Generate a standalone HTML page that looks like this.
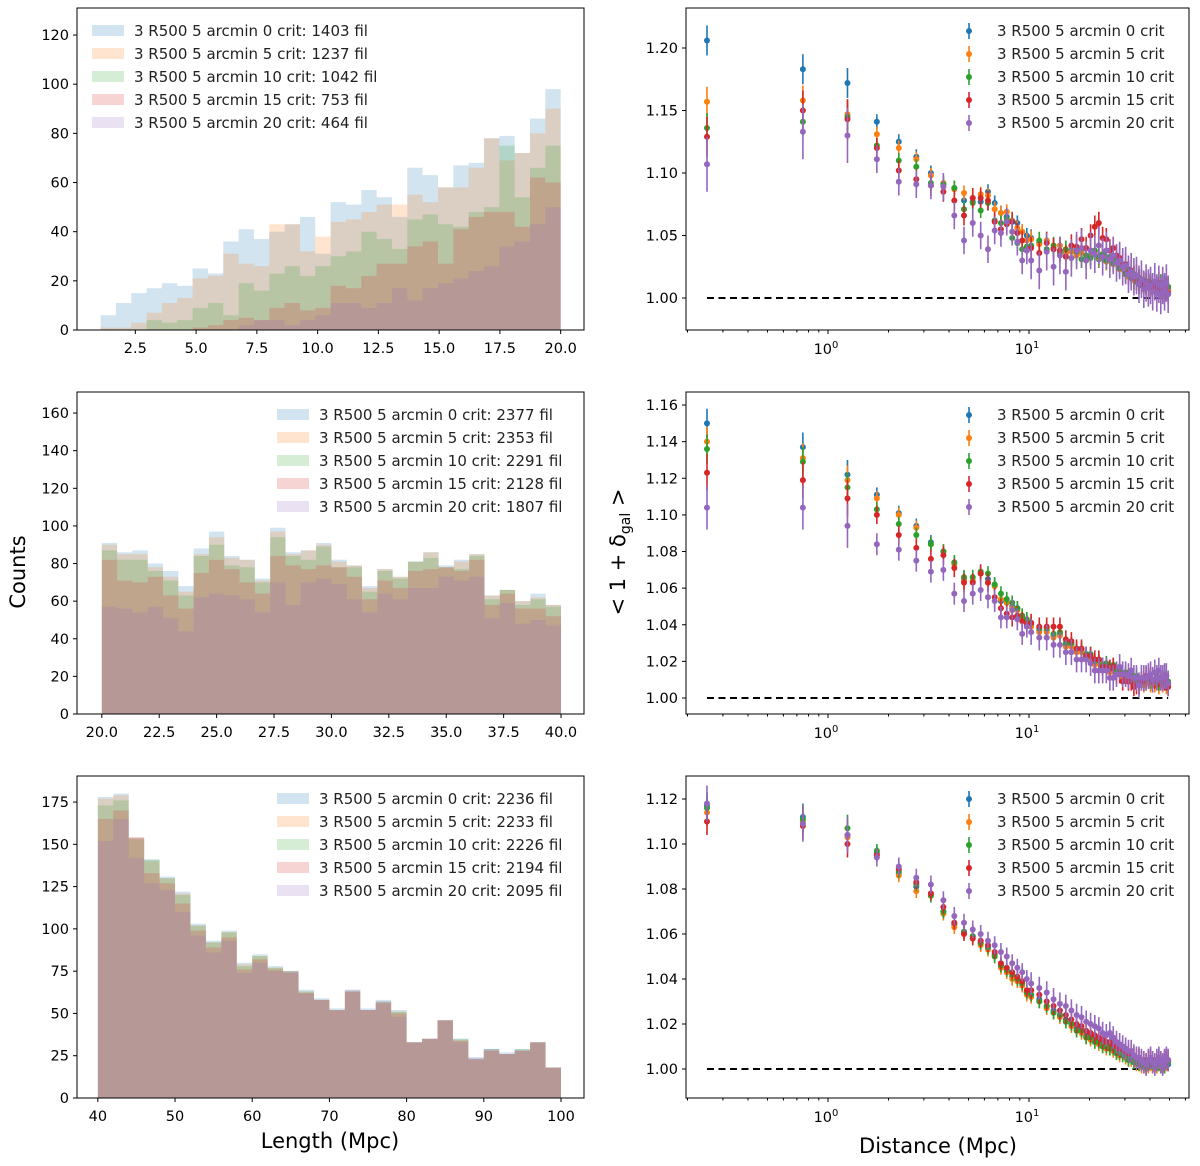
<!DOCTYPE html>
<html><head><meta charset="utf-8">
<style>
html,body{margin:0;padding:0;background:#fff;}
svg{display:block;font-family:"DejaVu Sans","Liberation Sans",sans-serif;}
</style></head>
<body>
<svg id="fig" width="1200" height="1166" viewBox="0 0 1200 1166" xmlns="http://www.w3.org/2000/svg"></svg>
<script>
// ---------- Histogram data (counts per bin, 30 bins) ----------
const histTopBlue   = [6,11,15,17,19,18,25,23,36,41,37,40,43,46,31,52,51,57,54,46,66,63,58,67,68,78,79,72,86,98];
const histTopOrange = [1,1,3,7,11,13,21,22,31,27,26,43,43,32,38,44,45,48,51,51,55,52,58,58,66,78,69,72,80,90];
const histTopGreen  = [0,0,0,4,3,4,9,11,6,19,16,23,26,22,26,30,32,40,37,33,45,47,43,42,48,50,75,54,66,75];
const histTopRed    = [0,0,0,0,0,0,1,2,4,5,4,9,11,8,9,18,17,22,27,27,34,36,27,41,46,48,48,42,62,60];
const histTopPurple = [0,0,0,0,0,0,0,0,0,2,4,4,2,4,6,11,11,9,11,17,12,17,19,21,24,26,34,36,43,50];

const histMidBlue   = [91,86,87,80,76,68,88,97,84,82,72,99,86,87,91,82,79,68,77,73,81,86,79,82,85,63,66,60,64,58];
const histMidOrange = [90,85,85,78,73,65,85,94,83,82,71,97,85,87,90,81,79,67,77,73,81,86,78,81,85,63,66,60,62,58];
const histMidGreen  = [87,82,82,76,71,63,84,90,79,78,70,94,84,82,89,78,78,65,76,72,81,83,78,77,84,61,66,58,61,57];
const histMidRed    = [82,71,70,73,63,56,75,82,77,70,64,84,79,77,79,78,73,61,71,67,76,77,78,76,82,58,64,56,56,52];
const histMidPurple = [57,56,54,57,51,44,62,64,63,61,54,70,58,70,72,69,61,54,64,61,67,67,73,71,73,51,59,48,50,47];

const histBotBlue   = [178,180,154,141,131,122,103,93,99,80,85,78,75,64,59,53,64,53,58,52,33,35,46,35,24,29,27,29,33,18];
const histBotOrange = [177,179,154,140,130,121,102,92,98,79,84,77,75,63,58,52,63,52,57,51,33,35,46,34,23,28,26,28,33,18];
const histBotGreen  = [173,176,153,141,130,120,102,92,98,78,84,77,75,63,58,52,63,52,57,51,33,35,46,35,23,29,26,29,33,18];
const histBotRed    = [165,170,154,133,127,115,99,89,95,76,82,76,74,62,58,52,63,52,56,50,33,35,46,34,23,28,26,28,33,18];
const histBotPurple = [152,165,142,127,123,110,96,86,93,74,80,75,75,62,58,52,64,52,57,48,33,35,46,33,24,29,26,28,33,18];

const critLabels = ["0","5","10","15","20"];
const filTop = [1403,1237,1042,753,464];
const filMid = [2377,2353,2291,2128,1807];
const filBot = [2236,2233,2226,2194,2095];

const histTopXTicks = [2.5,5.0,7.5,10.0,12.5,15.0,17.5,20.0];
const histTopYTicks = [0,20,40,60,80,100,120];
const histMidXTicks = [20.0,22.5,25.0,27.5,30.0,32.5,35.0,37.5,40.0];
const histMidYTicks = [0,20,40,60,80,100,120,140,160];
const histBotXTicks = [40,50,60,70,80,90,100];
const histBotYTicks = [0,25,50,75,100,125,150,175];

// ---------- Overdensity data: distance bins (Mpc) and values in thousandths above 1 ----------
const distances = [0.25,0.75,1.25,1.75,2.25,2.75,3.25,3.75,4.25,4.75,5.25,5.75,6.25,6.75,7.25,7.75,8.25,8.75,9.25,9.75,
 10.25,11.25,12.25,13.25,14.25,15.25,16.25,17.25,18.25,19.25,20.25,21.25,22.25,23.25,24.25,25.25,26.25,27.25,28.25,29.25,
 30.25,31.25,32.25,33.25,34.25,35.25,36.25,37.25,38.25,39.25,40.25,41.25,42.25,43.25,44.25,45.25,46.25,47.25,48.25,49.25];

const p1Blue   = [206,183,172,141,125,113,100,91,88,78,77,77,85,76,68,65,61,60,53,50, 48,44,46,40,42,36,38,35,37,31,34,37,31,35,30,32,29,30,24,27,20,23,16,19,13,16,11,14,9,13,8,12,7,11,6,10,12,6,10,7];
const p1Orange = [157,158,147,131,120,111,98,92,87,84,80,83,82,71,68,69,62,56,53,46, 47,43,46,39,42,35,37,34,36,30,33,37,32,35,29,32,27,29,23,26,24,17,20,14,17,12,15,10,12,9,11,8,11,8,10,6,9,7,10,6];
const p1Green  = [136,141,145,122,110,105,92,91,88,71,76,70,76,62,60,63,48,44,39,41, 42,46,39,42,36,39,32,37,31,34,32,38,33,35,30,33,28,30,24,27,19,22,17,19,13,16,10,13,10,12,9,11,8,10,7,12,6,11,5,9];
const p1Red    = [129,150,143,120,102,95,90,85,78,66,80,80,78,61,55,59,61,52,46,38, 40,36,44,39,38,33,42,41,47,40,50,57,60,48,47,38,40,34,32,26,27,20,22,16,18,12,14,11,12,9,11,8,10,7,12,5,11,6,8,4];
const p1Purple = [107,133,130,111,93,91,90,89,66,46,60,50,39,54,52,61,53,45,30,38, 30,22,37,25,34,21,32,38,40,30,38,35,42,33,38,31,34,28,30,25,26,19,21,17,18,11,15,7,12,8,10,5,13,4,11,2,10,5,12,3];

const p2Blue   = [150,137,122,111,101,94,85,80,74,65,64,68,65,62,53,52,50,49,43,42, 40,37,37,34,35,29,29,26,26,23,23,19,20,17,18,15,17,14,15,12,13,11,12,9,11,8,9,8,9,10,8,9,8,11,7,10,8,10,7,8];
const p2Orange = [140,131,119,109,100,93,84,80,73,64,64,68,63,61,54,52,49,48,44,41, 39,36,36,33,34,28,28,25,25,22,22,18,19,16,17,14,16,13,14,11,12,10,11,8,10,7,8,7,8,9,7,8,7,10,6,9,7,9,6,7];
const p2Green  = [136,129,115,103,95,89,84,80,74,66,66,69,68,62,57,54,52,49,45,43, 41,38,38,35,36,30,30,27,27,24,24,20,21,18,19,16,18,15,16,13,14,12,13,10,12,9,10,9,10,11,9,10,9,12,8,11,9,11,8,9];
const p2Red    = [123,119,109,100,89,82,76,78,71,63,63,68,63,55,49,46,44,45,42,40, 41,39,39,39,39,32,31,27,27,23,23,21,21,17,17,16,17,13,13,9,12,9,9,6,7,7,10,9,12,11,12,9,10,11,11,10,10,9,9,6];
const p2Purple = [104,104,94,84,81,75,69,70,57,53,57,59,55,53,44,44,48,43,35,39, 36,33,33,29,29,25,25,21,21,21,19,15,15,15,15,11,11,13,17,13,13,12,15,11,11,7,11,11,11,12,13,10,14,11,15,11,11,12,12,8];

const p3Blue   = [117,112,104,96,87,81,78,70,64,61,59,56,54,51,46,44,41,40,38,34, 33,31,28,26,24,22,20,18,17,15,14,13,12,11,10,10,9,8,7,7,6,5,5,4,3,3,2,2,1,2,3,2,1,2,3,2,1,2,3,2];
const p3Orange = [114,110,103,95,86,79,77,69,63,60,58,55,53,50,45,43,40,39,37,33, 32,30,27,25,23,21,19,17,16,14,13,12,11,10,9,9,8,7,6,6,5,4,4,3,2,2,1,1,0,1,2,1,0,1,2,1,0,1,2,3];
const p3Green  = [116,111,107,97,88,82,77,70,65,61,59,56,54,50,46,44,42,40,38,34, 33,30,28,25,24,21,20,17,17,14,14,12,12,10,10,9,9,7,7,6,6,4,5,3,3,2,2,1,1,2,3,1,1,2,2,2,1,1,3,3];
const p3Red    = [110,108,100,95,89,83,78,72,65,60,58,57,55,52,47,45,43,41,39,35, 35,33,30,28,26,24,22,20,19,17,16,15,14,13,12,12,11,10,9,9,8,7,7,6,5,5,4,4,3,4,5,4,3,4,5,4,3,4,5,4];
const p3Purple = [118,109,104,94,90,85,82,75,68,65,62,60,57,55,52,50,47,45,43,40, 38,36,34,31,29,28,26,24,23,21,20,19,18,16,15,16,14,12,11,10,9,8,8,6,5,5,4,3,2,4,5,3,2,4,5,3,2,4,5,4];

// error half-widths (thousandths) per series: blue, orange, green, red, purple
const p1Err = [6,6,6,8,11];
const p1ErrFar = [7,7,7,9,15];
const p2Err = [4,4,4,5,6];
const p2ErrFar = [4,4,4,5,7];
const p3Err = [3,3,3,3,4];
const p3ErrFar = [3,3,3,4,5];

const p1YTicks = [1.00,1.05,1.10,1.15,1.20];
const p2YTicks = [1.00,1.02,1.04,1.06,1.08,1.10,1.12,1.14,1.16];
const p3YTicks = [1.00,1.02,1.04,1.06,1.08,1.10,1.12];

// ---------- drawing ----------
const NS = "http://www.w3.org/2000/svg";
const svg = document.getElementById("fig");
const COLORS = ["#1f77b4","#ff7f0e","#2ca02c","#d62728","#9467bd"];
function el(tag, attrs, parent){
  const e = document.createElementNS(NS, tag);
  for (const k in attrs) e.setAttribute(k, attrs[k]);
  (parent||svg).appendChild(e);
  return e;
}
const LX0=77, LX1=584, RX0=686, RX1=1189, TOPS=[8,392,776], H=322;

function histPanel(idx, series, xmin, xmax, ymax, bStart, bEnd, xt, yt, fil, legX, xfmt){
  const top=TOPS[idx], bot=top+H;
  const g = el("g",{});
  
  
  const X = v => LX0 + (v-xmin)/(xmax-xmin)*(LX1-LX0);
  const Y = v => bot - v/ymax*H;
  const nb = series[0].length, w=(bEnd-bStart)/nb;
  series.forEach((arr,s)=>{
    let d = "M"+X(bStart)+","+Y(0);
    arr.forEach((v,i)=>{ d += " L"+X(bStart+i*w)+","+Y(v)+" L"+X(bStart+(i+1)*w)+","+Y(v); });
    d += " L"+X(bEnd)+","+Y(0)+" Z";
    const p = el("path",{d:d, fill:COLORS[s], "fill-opacity":0.2, stroke:"none"}, g);
    
    
  });
  const frame = el("rect",{x:LX0,y:top,width:LX1-LX0,height:H,fill:"none",stroke:"#000","stroke-width":1}, g);
  
  
  xt.forEach(v=>{
    el("line",{x1:X(v),x2:X(v),y1:bot,y2:bot+4,stroke:"#000"},g);
    const t = el("text",{x:X(v),y:bot+23,"font-size":14.5,"text-anchor":"middle",fill:"#000"},g);
    t.textContent = xfmt(v);
    
    
  });
  yt.forEach(v=>{
    el("line",{x1:LX0-4,x2:LX0,y1:Y(v),y2:Y(v),stroke:"#000"},g);
    const t = el("text",{x:LX0-8,y:Y(v)+5,"font-size":14.5,"text-anchor":"end",fill:"#000"},g);
    t.textContent = String(v);
    
    
  });
  for(let s=0;s<5;s++){
    const ly = top+23+s*23;
    const lg = el("g",{},g);
    
    
    el("rect",{x:legX,y:ly-6,width:32,height:11,fill:COLORS[s],"fill-opacity":0.2},lg);
    const t = el("text",{x:legX+42,y:ly+5,"font-size":15,fill:"#222"},lg);
    t.textContent = "3 R500 5 arcmin "+critLabels[s]+" crit: "+fil[s]+" fil";
  }
}
histPanel(0,[histTopBlue,histTopOrange,histTopGreen,histTopRed,histTopPurple],0.1,20.96,131,1.07,20.0,histTopXTicks,histTopYTicks,filTop,92,v=>v.toFixed(1));
histPanel(1,[histMidBlue,histMidOrange,histMidGreen,histMidRed,histMidPurple],18.92,41.0,171.2,20.0,40.0,histMidXTicks,histMidYTicks,filMid,277,v=>v.toFixed(1));
histPanel(2,[histBotBlue,histBotOrange,histBotGreen,histBotRed,histBotPurple],37.3,102.98,190.4,40,100,histBotXTicks,histBotYTicks,filBot,277,v=>String(v));

function pointPanel(idx, series, errs, errsFar, y0, yPerUnit, yt){
  const top=TOPS[idx], bot=top+H;
  const g = el("g",{});
  
  
  const X = d => 828 + 201*Math.log10(d);
  const Y = v => y0 - (v-1)*yPerUnit;
  const ref = el("line",{x1:X(distances[0]),x2:X(distances[distances.length-1]),y1:Y(1),y2:Y(1),stroke:"#000","stroke-width":2,"stroke-dasharray":"7,4.5"},g);
  
  
  series.forEach((arr,s)=>{
    const sg = el("g",{},g);
    
    
    arr.forEach((v,i)=>{
      const val = 1+v/1000;
      const base = distances[i] > 10 ? errsFar[s] : errs[s];
      const e = base*(i<3?2:1)/1000;
      const x = X(distances[i]);
      el("line",{x1:x,x2:x,y1:Y(val-e),y2:Y(val+e),stroke:COLORS[s],"stroke-width":1.6},sg);
      const c = el("circle",{cx:x,cy:Y(val),r:3,fill:COLORS[s]},sg);
      
      
    });
  });
  const frame = el("rect",{x:RX0,y:top,width:RX1-RX0,height:H,fill:"none",stroke:"#000","stroke-width":1},g);
  
  
  [0.2,0.3,0.4,0.5,0.6,0.7,0.8,0.9,2,3,4,5,6,7,8,9,20,30,40,50,60].forEach(d=>{
    el("line",{x1:X(d),x2:X(d),y1:bot,y2:bot+2.5,stroke:"#000"},g);
  });
  [[1,"0"],[10,"1"]].forEach(([d,ex])=>{
    el("line",{x1:X(d),x2:X(d),y1:bot,y2:bot+4,stroke:"#000"},g);
    const t = el("text",{x:X(d)-2,y:bot+24,"font-size":14.5,"text-anchor":"middle",fill:"#000"},g);
    
    
    t.appendChild(document.createTextNode("10"));
    const sup = el("tspan",{dy:-6,"font-size":10},t);
    sup.textContent = ex;
  });
  yt.forEach(v=>{
    el("line",{x1:RX0-4,x2:RX0,y1:Y(v),y2:Y(v),stroke:"#000"},g);
    const t = el("text",{x:RX0-8,y:Y(v)+5,"font-size":14.5,"text-anchor":"end",fill:"#000"},g);
    t.textContent = v.toFixed(2);
    
    
  });
  for(let s=0;s<5;s++){
    const ly = top+23+s*23;
    const lg = el("g",{},g);
    
    
    el("line",{x1:969,x2:969,y1:ly-8,y2:ly+8,stroke:COLORS[s],"stroke-width":1.6},lg);
    el("circle",{cx:969,cy:ly,r:3,fill:COLORS[s]},lg);
    const t = el("text",{x:997,y:ly+5,"font-size":15,fill:"#222"},lg);
    t.textContent = "3 R500 5 arcmin "+critLabels[s]+" crit";
  }
}
pointPanel(0,[p1Blue,p1Orange,p1Green,p1Red,p1Purple],p1Err,p1ErrFar,298,1250,p1YTicks);
pointPanel(1,[p2Blue,p2Orange,p2Green,p2Red,p2Purple],p2Err,p2ErrFar,698,1831,p2YTicks);
pointPanel(2,[p3Blue,p3Orange,p3Green,p3Red,p3Purple],p3Err,p3ErrFar,1069,2250,p3YTicks);

// axis titles
const yl = el("text",{x:0,y:0,"font-size":21,"text-anchor":"middle",fill:"#000",transform:"translate(25,572) rotate(-90)"});
yl.textContent = "Counts";


const yr = el("text",{x:0,y:0,"font-size":21,"text-anchor":"middle",fill:"#000",transform:"translate(625,552) rotate(-90)"});


yr.appendChild(document.createTextNode("< 1 + δ"));
const sub = el("tspan",{dy:5,"font-size":14},yr); sub.textContent="gal";
const rest = el("tspan",{dy:-5},yr); rest.textContent=" >";
const xl = el("text",{x:330,y:1148,"font-size":21,"text-anchor":"middle",fill:"#000"});
xl.textContent = "Length (Mpc)";


const xr = el("text",{x:938,y:1153,"font-size":21,"text-anchor":"middle",fill:"#000"});
xr.textContent = "Distance (Mpc)";


</script>
</body></html>
